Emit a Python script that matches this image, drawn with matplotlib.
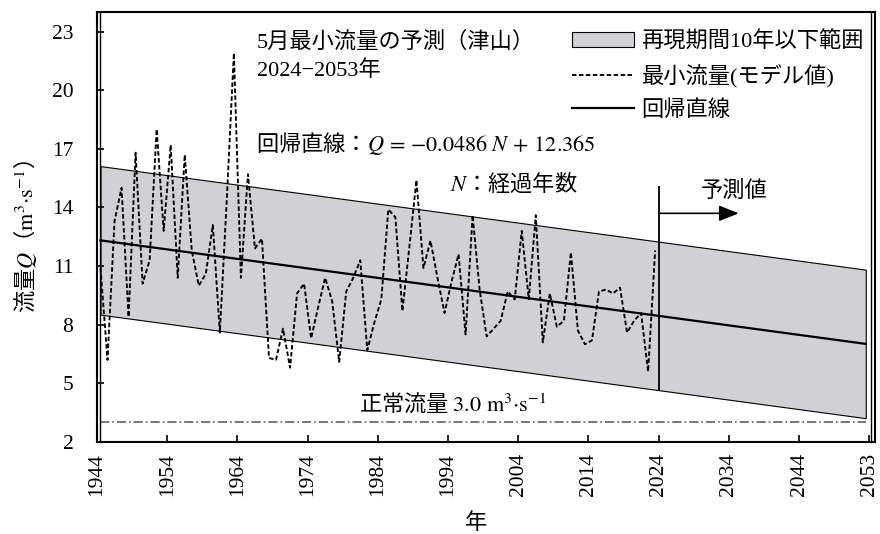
#~~~~~~~~~~~~~~~~~~~~~~~~~~~~~~~~~~~~~~~~~~~~~
#### May minimum flow forecast (Tsuyama) ####
#~~~~~~~~~~~~~~~~~~~~~~~~~~~~~~~~~~~~~~~~~~~~~

import numpy as np
import matplotlib
matplotlib.use('Agg')
import matplotlib.pyplot as plt
import matplotlib.patches as mpatches
from matplotlib.legend_handler import HandlerPatch

#~~~~~~~~~~~~~~
#### Data ####
#~~~~~~~~~~~~~~

# yearly minimum flow in May (model values), 1944-2023
obs_years = np.arange(1944, 2024)
min_flow = [10.9, 6.2, 13.3, 15.0, 8.4, 16.8, 10.1, 11.3, 18.0, 12.8,
            17.2, 10.4, 16.7, 11.8, 10.0, 10.6, 13.1, 7.6, 14.5, 21.9,
            10.4, 15.7, 11.9, 12.4, 6.3, 6.2, 7.8, 5.8, 9.6, 10.1,
            7.3, 8.9, 10.4, 9.2, 6.1, 9.7, 10.4, 11.3, 6.7, 8.1,
            9.3, 13.9, 13.5, 8.7, 12.0, 15.4, 10.9, 12.3, 10.4, 8.6,
            10.2, 11.6, 7.5, 13.6, 9.8, 7.4, 7.8, 8.2, 9.7, 9.3,
            12.8, 9.3, 13.6, 7.1, 9.6, 7.9, 8.2, 11.7, 7.7, 7.0,
            7.2, 9.7, 9.8, 9.6, 9.9, 7.6, 8.2, 8.6, 5.6, 11.8]

# regression line Q = a*N + b, N = elapsed years (1944 -> N = 1)
all_years = np.arange(1944, 2054)
reg_slope = -0.0486
reg_icept = 12.365
band_half = 3.8          # half width of 10-year return period band
normal_flow = 3.0
forecast_start = 2024

x_ticks = [1944, 1954, 1964, 1974, 1984, 1994, 2004, 2014, 2024, 2034, 2044, 2054]
x_labels = ['1944', '1954', '1964', '1974', '1984', '1994', '2004', '2014',
            '2024', '2034', '2044', '2053']
y_ticks = [2, 5, 8, 11, 14, 17, 20, 23]

#~~~~~~~~~~~~~~~~~~~~~~
#### Derived lines ####
#~~~~~~~~~~~~~~~~~~~~~~

N = all_years - 1943
reg_line = reg_slope * N + reg_icept
band_hi = reg_line + band_half
band_lo = reg_line - band_half
# points sit in the middle of each year slot
x_all = all_years + 0.5
x_obs = obs_years + 0.5

#~~~~~~~~~~~~~~~
#### Style ####
#~~~~~~~~~~~~~~

plt.rcParams['font.family'] = ['Liberation Serif', 'Noto Sans CJK JP', 'DejaVu Sans']
plt.rcParams['mathtext.fontset'] = 'stix'
plt.rcParams['font.size'] = 15
CJK = 'Noto Sans CJK JP'
FS = 16

fig = plt.figure(figsize=(8.8, 5.34), dpi=100)
ax = fig.add_axes([0.1102, 0.1723, 0.884, 0.8052])

#~~~~~~~~~~~~~~
#### Plot ####
#~~~~~~~~~~~~~~

ax.fill_between(x_all, band_lo, band_hi, facecolor='#d1d0d4', edgecolor='black',
                linewidth=0.8, label='再現期間10年以下範囲', zorder=1)
ax.plot(x_obs, min_flow, color='black', lw=1.35, ls=(0, (2.4, 1.3)),
        label='最小流量(モデル値)', zorder=3)
ax.plot(x_all, reg_line, color='black', lw=1.6, label='回帰直線', zorder=4)
ax.plot([x_all[0], x_all[-1]], [normal_flow, normal_flow], color='#606060',
        lw=1.2, ls=(0, (5.5, 1.8, 1.0, 1.8)), zorder=2)

# forecast marker
low_2024 = reg_slope * (forecast_start - 0.5 - 1943) + reg_icept - band_half
ax.vlines(forecast_start, low_2024, 15.1, color='black', lw=1.3, zorder=5)
ax.annotate('', xy=(2035.4, 13.7), xytext=(forecast_start, 13.7),
            arrowprops=dict(arrowstyle='-|>,head_length=0.8,head_width=0.32',
                            color='black', lw=1.2, shrinkA=0, shrinkB=0))
ax.text(2034.7, 14.88, '予測値', ha='center', va='center', fontsize=FS, family=CJK)

# texts
ax.text(1966.8, 22.45, '5月最小流量の予測（津山）', ha='left', va='center', fontsize=FS)
ax.text(1966.8, 21.0, '2024−2053年', ha='left', va='center', fontsize=FS)
ax.text(1966.6, 17.28, '回帰直線：$Q\\,=\\,{-}0.0486\\ N\\,+\\,12.365$', ha='left',
        va='center', fontsize=FS, family=CJK)
ax.text(1994.3, 15.23, '$N$：経過年数', ha='left', va='center', fontsize=FS, family=CJK)
ax.text(1981.3, 3.99, '正常流量 $3.0\\ \\mathrm{m^3{\\cdot}s^{-1}}$', ha='left',
        va='center', fontsize=FS, family=CJK)

fig.text(0.028, 0.556, '流量$Q$（$\\mathrm{m^3{\\cdot}s^{-1}}$）', rotation=90,
         ha='center', va='center', fontsize=FS, family=CJK)
fig.text(0.541, 0.021, '年', ha='center', va='center', fontsize=FS, family=CJK)

#~~~~~~~~~~~~~~
#### Axes ####
#~~~~~~~~~~~~~~

ax.set_xlim(1944, 2054.8)
ax.set_ylim(2, 24)
ax.set_xticks(x_ticks)
ax.set_xticklabels(x_labels, rotation=90)
ax.set_yticks(y_ticks)
ax.tick_params(axis='both', direction='in', length=5, width=1.2, labelsize=15.5)
ax.tick_params(axis='y', pad=17)
ax.tick_params(axis='x', pad=8)
for s in ax.spines.values():
    s.set_linewidth(1.5)
# double border on left and right like the original plot area
ax.plot([0.004, 0.004], [0, 1], transform=ax.transAxes, color='black', lw=1.0, clip_on=False)
ax.plot([0.995, 0.995], [0, 1], transform=ax.transAxes, color='black', lw=1.0, clip_on=False)

# legend with a thin band patch
def thin_rect(legend, orig_handle, xdescent, ydescent, width, height, fontsize):
    return mpatches.Rectangle((-xdescent, -ydescent + height * 0.2), width, height * 0.55)

ax.legend(loc='upper left', bbox_to_anchor=(0.61, 0.955), frameon=False,
          borderpad=0, borderaxespad=0, handlelength=2.8, handletextpad=0.35,
          labelspacing=0.55, fontsize=FS,
          handler_map={mpatches.Polygon: HandlerPatch(patch_func=thin_rect)})

plt.savefig('out.png', dpi=100)
